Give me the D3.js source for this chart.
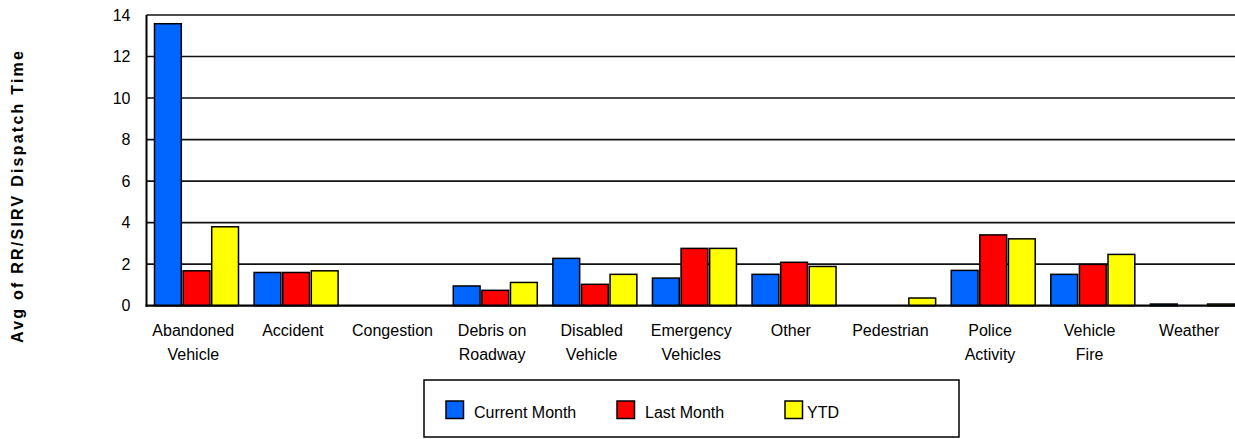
<!DOCTYPE html>
<html>
<head>
<meta charset="utf-8">
<script src="https://cdn.jsdelivr.net/npm/d3@7"></script>
<style>
  html, body { margin: 0; padding: 0; background: #fff; }
  svg { display: block; font-family: Arial, "Liberation Sans", sans-serif; }
</style>
</head>
<body>
<svg id="chart" width="1235" height="439"></svg>
<script>
const categories = ["Abandoned\nVehicle", "Accident", "Congestion", "Debris on\nRoadway", "Disabled\nVehicle",
  "Emergency\nVehicles", "Other", "Pedestrian", "Police\nActivity", "Vehicle\nFire", "Weather"];
const seriesNames = ["Current Month", "Last Month", "YTD"];
const currentMonth = [13.58, 1.6, 0, 0.95, 2.28, 1.33, 1.51, 0, 1.70, 1.51, 0.08];
const lastMonth    = [1.68, 1.6, 0, 0.74, 1.03, 2.76, 2.09, 0, 3.41, 1.99, 0];
const ytd          = [3.80, 1.68, 0, 1.12, 1.51, 2.76, 1.89, 0.37, 3.22, 2.47, 0.08];
const yTicks = [0, 2, 4, 6, 8, 10, 12, 14];
const colors = ["#0066ff", "#ff0000", "#ffff00"];
const yTitle = "Avg of RR/SIRV Dispatch Time";

const seriesValues = [currentMonth, lastMonth, ytd];
const svg = d3.select("#chart");
const FONT = "Arial, 'Liberation Sans', sans-serif";

const x0 = d3.scaleBand().domain(d3.range(categories.length)).range([146.5, 1242]).paddingInner(0).paddingOuter(0);
const x1 = d3.scaleBand().domain(d3.range(seriesNames.length)).range([8, 92]).paddingInner(0.063).paddingOuter(0);
const y = d3.scaleLinear().domain([0, 14]).range([305.7, 15]);

// gridlines
svg.append("g").selectAll("line").data(yTicks.filter(d => d > 0)).join("line")
  .attr("x1", 146.5).attr("x2", 1235)
  .attr("y1", d => y(d)).attr("y2", d => y(d))
  .attr("stroke", "#111").attr("stroke-width", 1.6);

// y axis labels
const yAxis = d3.axisLeft(y).tickValues(yTicks).tickSize(0).tickPadding(16).tickFormat(d3.format("d"));
const yg = svg.append("g").attr("transform", "translate(146.5,0)").call(yAxis);
yg.select(".domain").remove();
yg.selectAll("text").attr("font-size", 16).attr("fill", "#000").attr("font-family", FONT);

// bars
const groups = svg.append("g").selectAll("g").data(categories).join("g")
  .attr("transform", (d, i) => `translate(${x0(i)},0)`);
groups.selectAll("rect").data((d, i) => seriesValues.map((s, k) => ({k, v: s[i]}))).join("rect")
  .attr("x", d => x1(d.k))
  .attr("width", x1.bandwidth())
  .attr("y", d => y(d.v))
  .attr("height", d => y(0) - y(d.v))
  .attr("fill", d => colors[d.k])
  .attr("stroke", "#000").attr("stroke-width", 1.5);

// axes lines
svg.append("line").attr("x1", 146.5).attr("x2", 146.5).attr("y1", y(14)).attr("y2", y(0) + 1)
  .attr("stroke", "#000").attr("stroke-width", 2);
svg.append("line").attr("x1", 145.5).attr("x2", 1235).attr("y1", y(0)).attr("y2", y(0))
  .attr("stroke", "#000").attr("stroke-width", 2.2);

// category labels
const xAxis = d3.axisBottom(x0).tickSize(0).tickFormat(() => "");
const xg = svg.append("g").attr("transform", `translate(0,${y(0)})`).call(xAxis);
xg.select(".domain").remove();
xg.selectAll(".tick").each(function(i) {
  const t = d3.select(this).append("text")
    .attr("text-anchor", "middle").attr("fill", "#000").attr("font-size", 16)
    .attr("font-family", FONT);
  categories[i].split("\n").forEach((line, j) => {
    t.append("tspan").attr("x", -3).attr("y", 30 + j * 24.5).text(line);
  });
});

// y title
svg.append("text")
  .attr("transform", "translate(22.5,197) rotate(-90)")
  .attr("text-anchor", "middle")
  .attr("font-size", 16).attr("font-weight", "bold").attr("fill", "#000")
  .attr("textLength", 292).attr("lengthAdjust", "spacing")
  .text(yTitle);

// legend
svg.append("rect").attr("x", 424).attr("y", 380).attr("width", 535).attr("height", 57)
  .attr("fill", "#fff").attr("stroke", "#000").attr("stroke-width", 1.5);
const legendX = [446, 617, 785];
const lg = svg.append("g").selectAll("g").data(seriesNames).join("g")
  .attr("transform", (d, i) => `translate(${legendX[i]},401)`);
lg.append("rect").attr("width", 17.5).attr("height", 17.5)
  .attr("fill", (d, i) => colors[i]).attr("stroke", "#000").attr("stroke-width", 1.5);
lg.append("text").attr("x", (d, i) => i === 2 ? 22 : 28).attr("y", 16.5)
  .attr("font-size", 16).attr("fill", "#000").attr("font-family", FONT).text(d => d);
</script>
</body>
</html>
